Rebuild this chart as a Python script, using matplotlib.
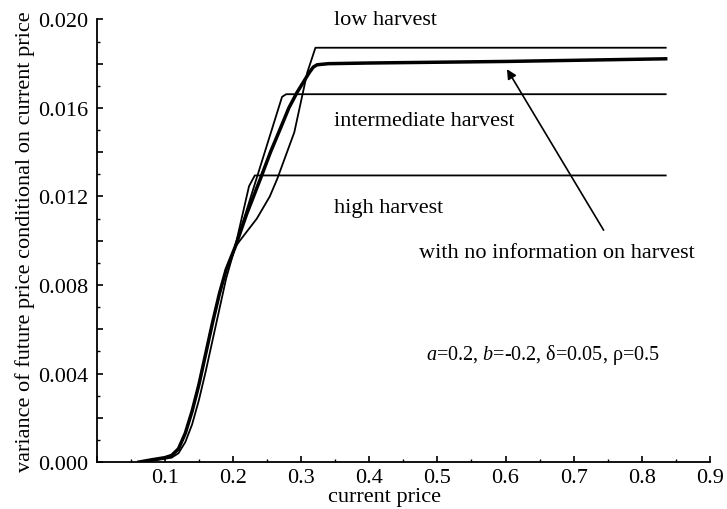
import numpy as np
import matplotlib
matplotlib.use('Agg')
from matplotlib import pyplot as plt
from matplotlib.ticker import MultipleLocator, FuncFormatter

plt.rcParams['font.family'] = ['Liberation Serif', 'DejaVu Serif']
plt.rcParams['mathtext.fontset'] = 'custom'
plt.rcParams['mathtext.rm'] = 'Liberation Serif'
plt.rcParams['mathtext.it'] = 'Liberation Serif:italic'

# data
low_x = [0.062, 0.09, 0.11, 0.12, 0.13, 0.14, 0.15, 0.16, 0.17, 0.18, 0.19, 0.203,
         0.210, 0.235, 0.254, 0.265, 0.290, 0.309, 0.321, 0.835]
low_y = [0.0, 0.0001, 0.0002, 0.0004, 0.0009, 0.0017, 0.0028, 0.0041, 0.0055, 0.0069, 0.0083, 0.0097,
         0.0100, 0.0110, 0.0120, 0.0128, 0.0149, 0.0176, 0.01872, 0.01872]

mid_x = [0.062, 0.08, 0.10, 0.11, 0.12, 0.13, 0.14, 0.15, 0.16, 0.17, 0.18, 0.19, 0.203,
         0.272, 0.278, 0.835]
mid_y = [0.0, 0.0001, 0.0002, 0.0003, 0.0006, 0.0013, 0.0023, 0.0035, 0.0049, 0.0063, 0.0076, 0.0087, 0.0097,
         0.0165, 0.01662, 0.01662]

high_x = [0.062, 0.08, 0.10, 0.11, 0.12, 0.13, 0.14, 0.15, 0.16, 0.17, 0.18, 0.19, 0.203,
          0.2235, 0.232, 0.835]
high_y = [0.0, 0.0001, 0.0002, 0.0003, 0.0006, 0.0013, 0.0023, 0.0035, 0.0049, 0.0063, 0.0076, 0.0087, 0.0097,
          0.01246, 0.01295, 0.01295]

noinfo_x = [0.062, 0.08, 0.10, 0.11, 0.12, 0.13, 0.14, 0.15, 0.16, 0.17, 0.18, 0.19, 0.203,
            0.22, 0.240, 0.255, 0.269, 0.282, 0.294, 0.304, 0.312, 0.318, 0.3235, 0.34, 0.4, 0.6, 0.835]
noinfo_y = [0.0, 0.0001, 0.0002, 0.0003, 0.0006, 0.0013, 0.0023, 0.0035, 0.0049, 0.0063, 0.0076, 0.0087, 0.0097,
            0.0112, 0.01278, 0.0140, 0.01503, 0.0160, 0.0167, 0.0172, 0.0176, 0.01785, 0.01795, 0.01800, 0.01803, 0.0181, 0.01822]

fig = plt.figure(figsize=(7.27, 5.10), dpi=100)
ax = fig.add_axes([0.133, 0.092, 0.8436, 0.868])

ax.plot(low_x, low_y, color='black', lw=1.3)
ax.plot(mid_x, mid_y, color='black', lw=1.3)
ax.plot(high_x, high_y, color='black', lw=1.3)
ax.plot(noinfo_x, noinfo_y, color='black', lw=2.5)

ax.set_xlim(0, 0.9)
ax.set_ylim(0, 0.020)
ax.spines['top'].set_visible(False)
ax.spines['right'].set_visible(False)
for s in ['left', 'bottom']:
    ax.spines[s].set_linewidth(1.3)

ax.xaxis.set_major_locator(MultipleLocator(0.1))
ax.xaxis.set_minor_locator(MultipleLocator(0.05))
ax.yaxis.set_major_locator(MultipleLocator(0.002))
ax.yaxis.set_minor_locator(MultipleLocator(0.001))
ax.xaxis.set_major_formatter(FuncFormatter(lambda v, p: '' if v < 0.05 else '%.1f' % v))
ax.yaxis.set_major_formatter(FuncFormatter(lambda v, p: '%.3f' % v if round(v * 1000) % 4 == 0 else ''))
ax.tick_params(which='major', direction='in', length=4, width=1.2, labelsize=16, pad=6)
ax.tick_params(axis='x', which='major', pad=4)
ax.tick_params(which='minor', direction='in', length=2.5, width=1.0)

ax.set_xlabel('current price', fontsize=16)
ax.set_ylabel('variance of future price conditional on current price', fontsize=16, labelpad=2)
ax.xaxis.set_label_coords(0.47, -0.056, transform=ax.transAxes)

ax.text(0.348, 0.0200, 'low harvest', fontsize=16, va='center')
ax.text(0.348, 0.01544, 'intermediate harvest', fontsize=16, va='center')
ax.text(0.348, 0.01151, 'high harvest', fontsize=16, va='center')
ax.text(0.473, 0.00948, 'with no information on harvest', fontsize=16, va='center')
ax.text(0.483, 0.00488, '$a$=0.2, $b$=-0.2, δ=0.05, ρ=0.5', fontsize=14.5, va='center')

ax.annotate('', xy=(0.600, 0.01786), xytext=(0.746, 0.01037),
            arrowprops=dict(arrowstyle='-|>', color='black', lw=1.2, mutation_scale=14))

fig.savefig('out.png', dpi=100)
